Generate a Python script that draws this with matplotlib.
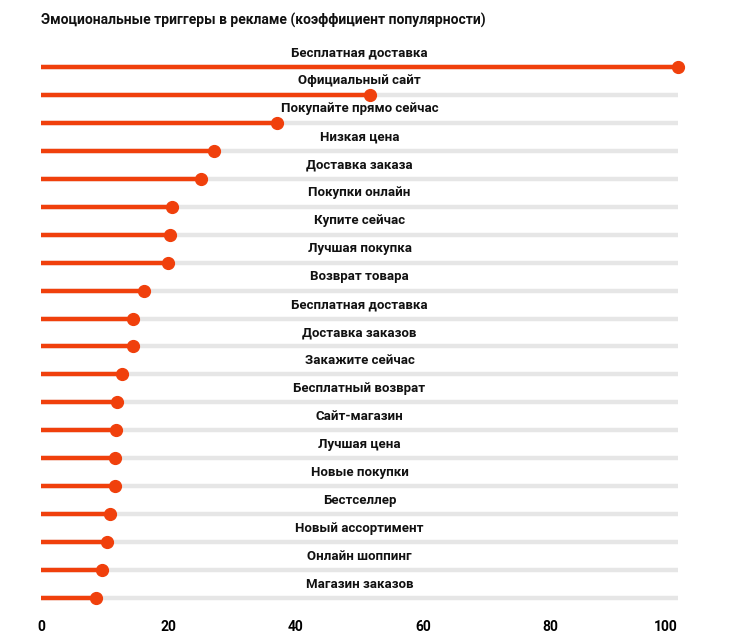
import matplotlib.pyplot as plt

# Data
labels = [
    'Бесплатная доставка', 'Официальный сайт', 'Покупайте прямо сейчас',
    'Низкая цена', 'Доставка заказа', 'Покупки онлайн', 'Купите сейчас',
    'Лучшая покупка', 'Возврат товара', 'Бесплатная доставка',
    'Доставка заказов', 'Закажите сейчас', 'Бесплатный возврат',
    'Сайт-магазин', 'Лучшая цена', 'Новые покупки', 'Бестселлер',
    'Новый ассортимент', 'Онлайн шоппинг', 'Магазин заказов',
]
values = [100, 51.6, 37, 27.2, 25.1, 20.6, 20.3, 19.9, 16.2, 14.4,
          14.4, 12.7, 11.9, 11.8, 11.6, 11.6, 10.8, 10.4, 9.6, 8.6]
xticks = [0, 20, 40, 60, 80, 100]
title = 'Эмоциональные триггеры в рекламе (коэффициент популярности)'

orange = '#f0400c'
grey = '#e6e6e6'

plt.rcParams['font.family'] = ['Roboto', 'DejaVu Sans']

W, H = 742, 633
fig = plt.figure(figsize=(W / 100, H / 100), dpi=100)
ax = fig.add_axes([41 / W, (H - 612) / H, (678 - 41) / W, (612 - 53) / H])

for i, (lab, v) in enumerate(zip(labels, values)):
    ax.plot([0, 100], [i, i], color=grey, lw=3.2, solid_capstyle='round', zorder=1)
    ax.plot([0, v], [i, i], color=orange, lw=3.2, solid_capstyle='round', zorder=2)
    ax.plot(v, i, 'o', color=orange, ms=8.5, zorder=3, clip_on=False)
    ax.text(50, i - 0.5, lab, ha='center', va='center', fontsize=9.5,
            fontweight='bold', color='#111111')

ax.set_xlim(0, 100)
ax.set_ylim(19.5, -0.5)
ax.set_xticks(xticks)
ax.set_xticklabels([str(t) for t in xticks], fontweight='bold', fontsize=10)
ax.get_xticklabels()[-1].set_ha('right')
ax.set_yticks([])
ax.tick_params(axis='x', length=0, pad=6)
for s in ax.spines.values():
    s.set_visible(False)

fig.text(41 / W, 1 - 20 / H, title, ha='left', va='center', fontsize=10,
         fontweight='bold', color='#111111')

fig.savefig('out.png', dpi=100)
